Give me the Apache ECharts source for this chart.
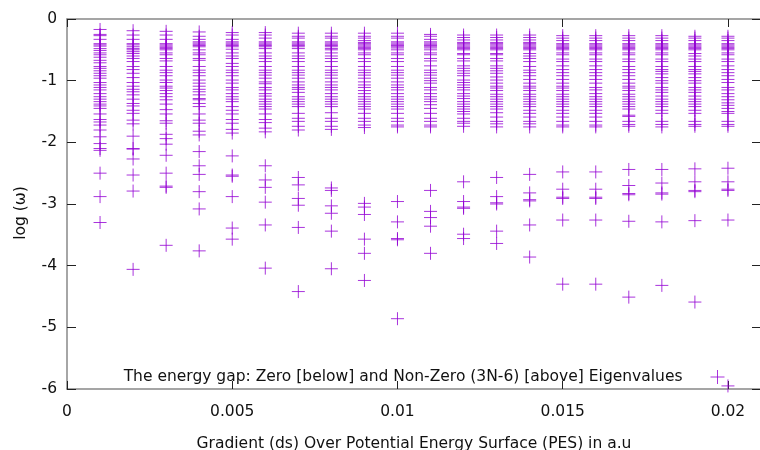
<!DOCTYPE html>
<html><head><meta charset="utf-8">
<script src="https://cdn.jsdelivr.net/npm/echarts@6/dist/echarts.min.js"></script>
<style>html,body{margin:0;padding:0;background:#fff}#c{width:760px;height:450px}</style>
</head><body><div id="c"></div>
<script>
const xValues = [0.001,0.002,0.003,0.004,0.005,0.006,0.007,0.008,0.009,0.010,0.011,0.012,0.013,0.014,0.015,0.016,0.017,0.018,0.019,0.020];
const c01 = [-0.17,-0.25,-0.27,-0.33,-0.40,-0.42,-0.44,-0.48,-0.51,-0.55,-0.58,-0.62,-0.67,-0.71,-0.77,-0.80,-0.84,-0.88,-0.92,-0.96,-1.03,-1.07,-1.11,-1.15,-1.21,-1.26,-1.30,-1.34,-1.38,-1.41,-1.45,-1.54,-1.63,-1.67,-1.72,-1.80,-1.91,-2.02,-2.10,-2.13,-2.50,-2.88,-3.30];
const c02 = [-0.19,-0.26,-0.33,-0.40,-0.42,-0.45,-0.48,-0.50,-0.53,-0.56,-0.60,-0.64,-0.69,-0.77,-0.82,-0.88,-0.95,-1.03,-1.09,-1.14,-1.18,-1.23,-1.30,-1.37,-1.41,-1.48,-1.53,-1.64,-1.70,-1.90,-2.10,-2.11,-2.27,-2.53,-2.79,-4.06];
const c03 = [-0.20,-0.26,-0.33,-0.40,-0.42,-0.44,-0.46,-0.48,-0.50,-0.55,-0.58,-0.64,-0.68,-0.77,-0.83,-0.87,-0.92,-0.99,-1.03,-1.09,-1.12,-1.16,-1.21,-1.26,-1.31,-1.38,-1.47,-1.54,-1.65,-1.69,-1.87,-1.94,-2.03,-2.21,-2.50,-2.71,-2.73,-3.67];
const c04 = [-0.21,-0.28,-0.33,-0.37,-0.39,-0.41,-0.43,-0.45,-0.50,-0.55,-0.58,-0.64,-0.67,-0.77,-0.83,-0.87,-0.92,-0.99,-1.04,-1.09,-1.14,-1.18,-1.23,-1.29,-1.31,-1.37,-1.42,-1.54,-1.64,-1.69,-1.82,-1.88,-2.15,-2.38,-2.52,-2.80,-3.08,-3.76];
const c05 = [-0.22,-0.26,-0.33,-0.37,-0.39,-0.41,-0.43,-0.45,-0.49,-0.55,-0.60,-0.64,-0.72,-0.77,-0.83,-0.87,-0.92,-0.99,-1.04,-1.11,-1.15,-1.21,-1.26,-1.30,-1.34,-1.42,-1.48,-1.54,-1.63,-1.69,-1.79,-1.85,-2.22,-2.53,-2.55,-2.88,-3.39,-3.57];
const c06 = [-0.22,-0.26,-0.31,-0.37,-0.39,-0.41,-0.43,-0.45,-0.48,-0.55,-0.60,-0.64,-0.69,-0.77,-0.83,-0.87,-0.91,-0.96,-1.02,-1.05,-1.11,-1.15,-1.21,-1.25,-1.30,-1.34,-1.38,-1.42,-1.46,-1.54,-1.63,-1.68,-1.77,-1.83,-2.38,-2.61,-2.73,-2.97,-3.34,-4.04];
const c07 = [-0.23,-0.28,-0.31,-0.37,-0.39,-0.41,-0.43,-0.45,-0.48,-0.55,-0.60,-0.64,-0.69,-0.77,-0.83,-0.87,-0.91,-0.96,-1.02,-1.07,-1.11,-1.14,-1.19,-1.26,-1.30,-1.34,-1.38,-1.42,-1.53,-1.61,-1.66,-1.74,-1.80,-2.57,-2.69,-2.91,-3.02,-3.38,-4.42];
const c08 = [-0.23,-0.28,-0.31,-0.37,-0.39,-0.41,-0.43,-0.45,-0.48,-0.50,-0.55,-0.60,-0.64,-0.69,-0.77,-0.83,-0.87,-0.91,-0.96,-1.02,-1.07,-1.11,-1.15,-1.21,-1.26,-1.30,-1.34,-1.38,-1.42,-1.52,-1.61,-1.66,-1.74,-1.79,-2.74,-2.78,-3.03,-3.15,-3.44,-4.05];
const c09 = [-0.23,-0.28,-0.31,-0.35,-0.38,-0.40,-0.42,-0.44,-0.46,-0.48,-0.50,-0.55,-0.58,-0.64,-0.69,-0.77,-0.83,-0.87,-0.91,-0.96,-1.02,-1.07,-1.11,-1.16,-1.21,-1.26,-1.30,-1.34,-1.38,-1.42,-1.46,-1.53,-1.61,-1.66,-1.72,-1.76,-2.99,-3.05,-3.17,-3.57,-3.80,-4.24];
const c10 = [-0.23,-0.28,-0.31,-0.37,-0.39,-0.41,-0.43,-0.45,-0.47,-0.50,-0.55,-0.58,-0.64,-0.69,-0.77,-0.83,-0.87,-0.91,-0.96,-1.02,-1.07,-1.11,-1.15,-1.21,-1.26,-1.30,-1.34,-1.38,-1.42,-1.46,-1.53,-1.61,-1.66,-1.72,-1.75,-2.96,-3.29,-3.56,-3.58,-4.86];
const c11 = [-0.25,-0.28,-0.33,-0.37,-0.39,-0.41,-0.43,-0.45,-0.47,-0.50,-0.55,-0.58,-0.64,-0.68,-0.76,-0.83,-0.87,-0.91,-0.96,-1.00,-1.04,-1.11,-1.15,-1.21,-1.26,-1.30,-1.34,-1.39,-1.45,-1.53,-1.61,-1.66,-1.72,-1.75,-2.78,-3.12,-3.22,-3.36,-3.80];
const c12 = [-0.26,-0.30,-0.34,-0.38,-0.40,-0.42,-0.44,-0.46,-0.48,-0.50,-0.56,-0.58,-0.64,-0.68,-0.76,-0.80,-0.84,-0.88,-0.92,-0.99,-1.03,-1.07,-1.11,-1.15,-1.21,-1.25,-1.29,-1.34,-1.38,-1.42,-1.46,-1.50,-1.54,-1.61,-1.66,-1.69,-1.74,-2.64,-2.96,-3.05,-3.07,-3.49,-3.56];
const c13 = [-0.26,-0.30,-0.34,-0.38,-0.40,-0.42,-0.44,-0.46,-0.48,-0.50,-0.56,-0.58,-0.64,-0.68,-0.76,-0.80,-0.84,-0.88,-0.94,-0.99,-1.04,-1.09,-1.12,-1.16,-1.22,-1.26,-1.30,-1.34,-1.38,-1.42,-1.46,-1.52,-1.59,-1.66,-1.70,-1.75,-2.57,-2.88,-2.98,-3.00,-3.44,-3.64];
const c14 = [-0.26,-0.30,-0.34,-0.38,-0.40,-0.42,-0.44,-0.46,-0.48,-0.50,-0.56,-0.60,-0.64,-0.69,-0.77,-0.83,-0.87,-0.92,-0.98,-1.04,-1.09,-1.12,-1.16,-1.22,-1.26,-1.30,-1.34,-1.38,-1.42,-1.48,-1.53,-1.59,-1.66,-1.70,-1.75,-2.52,-2.82,-2.93,-2.95,-3.34,-3.86];
const c15 = [-0.27,-0.31,-0.35,-0.40,-0.42,-0.44,-0.46,-0.48,-0.50,-0.55,-0.58,-0.65,-0.69,-0.76,-0.82,-0.87,-0.92,-0.98,-1.04,-1.09,-1.12,-1.16,-1.22,-1.26,-1.30,-1.34,-1.38,-1.42,-1.48,-1.53,-1.59,-1.66,-1.72,-1.75,-2.48,-2.76,-2.89,-2.91,-3.26,-4.30];
const c16 = [-0.27,-0.31,-0.35,-0.40,-0.42,-0.44,-0.46,-0.48,-0.50,-0.55,-0.58,-0.65,-0.69,-0.76,-0.82,-0.87,-0.92,-0.98,-1.04,-1.11,-1.15,-1.21,-1.26,-1.30,-1.34,-1.38,-1.42,-1.48,-1.53,-1.59,-1.66,-1.72,-1.75,-2.48,-2.76,-2.89,-2.91,-3.26,-4.30];
const c17 = [-0.27,-0.31,-0.35,-0.40,-0.42,-0.44,-0.46,-0.48,-0.50,-0.55,-0.58,-0.65,-0.69,-0.77,-0.82,-0.87,-0.92,-0.98,-1.04,-1.09,-1.12,-1.16,-1.22,-1.26,-1.30,-1.34,-1.38,-1.42,-1.46,-1.56,-1.58,-1.66,-1.71,-1.74,-2.44,-2.70,-2.83,-2.85,-3.28,-4.51];
const c18 = [-0.27,-0.31,-0.35,-0.40,-0.42,-0.44,-0.46,-0.48,-0.50,-0.55,-0.58,-0.65,-0.69,-0.77,-0.82,-0.85,-0.89,-0.95,-1.00,-1.04,-1.11,-1.15,-1.19,-1.25,-1.30,-1.34,-1.38,-1.42,-1.48,-1.53,-1.66,-1.71,-1.75,-2.44,-2.66,-2.82,-2.84,-3.29,-4.32];
const c19 = [-0.28,-0.31,-0.35,-0.40,-0.42,-0.44,-0.46,-0.48,-0.50,-0.56,-0.60,-0.65,-0.69,-0.77,-0.82,-0.85,-0.89,-0.95,-1.00,-1.04,-1.11,-1.15,-1.19,-1.25,-1.30,-1.34,-1.38,-1.42,-1.48,-1.53,-1.66,-1.71,-1.74,-2.43,-2.64,-2.78,-2.80,-3.27,-4.59];
const c20 = [-0.28,-0.31,-0.35,-0.40,-0.42,-0.44,-0.46,-0.48,-0.50,-0.55,-0.58,-0.65,-0.69,-0.76,-0.82,-0.87,-0.92,-0.98,-1.03,-1.11,-1.15,-1.21,-1.26,-1.31,-1.36,-1.40,-1.45,-1.50,-1.53,-1.66,-1.71,-1.74,-2.42,-2.64,-2.76,-2.78,-3.26,-5.95];
const columns = [c01,c02,c03,c04,c05,c06,c07,c08,c09,c10,c11,c12,c13,c14,c15,c16,c17,c18,c19,c20];
const seriesName = 'The energy gap: Zero [below] and Non-Zero (3N-6) [above] Eigenvalues';
const xTitle = 'Gradient (ds) Over Potential Energy Surface (PES) in a.u';
const yTitle = 'log (\u03C9)';

const data = [];
columns.forEach((col, i) => col.forEach(v => data.push([xValues[i], v])));

const FONT = 'DejaVu Sans';
const FS = 15.5;
const PLUS = 'path://M7,0L7,14M0,7L14,7';
const purple = '#9400d3';
const borderC = '#888';
const tickC = '#222';

const chart = echarts.init(document.getElementById('c'), null, {renderer: 'canvas'});
chart.setOption({
  animation: false,
  backgroundColor: '#fff',
  textStyle: {fontFamily: FONT},
  grid: {left: 67, right: -1, top: 19, bottom: 61, containLabel: false, outerBoundsMode: 'none'},
  legend: {
    right: 30, top: 364, itemWidth: 14, itemHeight: 14, align: 'right',
    textStyle: {fontFamily: FONT, fontSize: FS, color: '#111', padding: [0, 23, 0, 0]},
    data: [{name: seriesName, icon: PLUS, itemStyle: {color: 'rgba(0,0,0,0)', borderColor: purple, borderWidth: 1, opacity: 0.8}}]
  },
  xAxis: [{
    type: 'value', min: 0, max: 0.021, interval: 0.005,
    name: xTitle, nameLocation: 'middle', nameGap: 47,
    nameTextStyle: {fontFamily: FONT, fontSize: FS, color: '#111'},
    axisLine: {show: true, onZero: false, lineStyle: {color: borderC, width: 1.5}},
    axisTick: {show: true, inside: true, length: 8, lineStyle: {color: tickC}},
    axisLabel: {fontFamily: FONT, fontSize: FS, color: '#111', margin: 15, showMaxLabel: false},
    splitLine: {show: false}
  }, {
    type: 'value', min: 0, max: 0.021, interval: 0.005, position: 'top',
    axisLine: {show: true, onZero: false, lineStyle: {color: borderC, width: 1.5}},
    axisTick: {show: true, inside: true, length: 8, lineStyle: {color: tickC}},
    axisLabel: {show: false}, splitLine: {show: false}
  }],
  yAxis: [{
    type: 'value', min: -6, max: 0, interval: 1,
    name: yTitle, nameLocation: 'middle', nameGap: 38, nameRotate: 90,
    nameTextStyle: {fontFamily: FONT, fontSize: FS, color: '#111', padding: [0, 18, 0, 0]},
    axisLine: {show: true, onZero: false, lineStyle: {color: borderC, width: 1.5}},
    axisTick: {show: true, inside: true, length: 9, lineStyle: {color: tickC}},
    axisLabel: {fontFamily: FONT, fontSize: FS, color: '#111', margin: 10},
    splitLine: {show: false}
  }, {
    type: 'value', min: -6, max: 0, interval: 1, position: 'right',
    axisLine: {show: true, onZero: false, lineStyle: {color: borderC, width: 1.5}},
    axisTick: {show: true, inside: true, length: 9, lineStyle: {color: tickC}},
    axisLabel: {show: false}, splitLine: {show: false}
  }],
  series: [{
    name: seriesName,
    type: 'scatter',
    xAxisIndex: 0, yAxisIndex: 0,
    symbol: PLUS,
    symbolSize: 13,
    clip: false,
    itemStyle: {color: 'rgba(0,0,0,0)', borderColor: purple, borderWidth: 1, opacity: 0.8},
    emphasis: {disabled: true},
    data: data
  }]
});
</script></body></html>
